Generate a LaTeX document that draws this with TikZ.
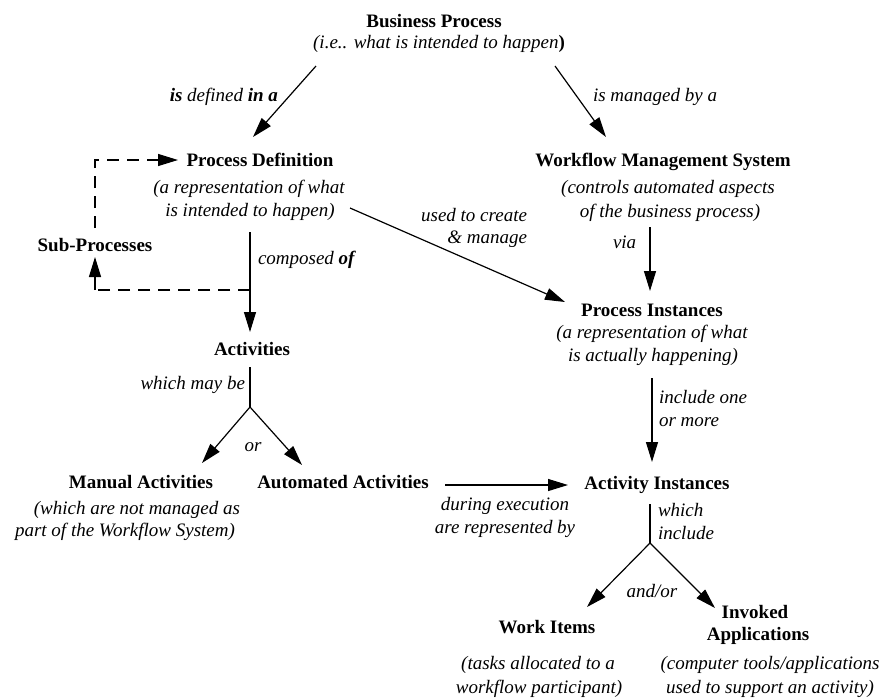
\documentclass[tikz,border=0pt]{standalone}
\usepackage{fontspec}
\setmainfont{Liberation Serif}
\usetikzlibrary{arrows.meta}
\begin{document}
\begin{tikzpicture}[x=1pt,y=-1pt,
  every node/.style={inner sep=0pt,outer sep=0pt,anchor=base,font=\fontsize{19}{23}\selectfont},
  ttl/.style={font=\fontsize{19}{23}\selectfont\bfseries},
  sub/.style={font=\fontsize{19}{23}\selectfont\itshape},
  lbl/.style={font=\fontsize{19}{23}\selectfont\itshape},
  conn/.style={line width=1.2pt},
  arr/.style={line width=1.2pt,-{Triangle[length=20pt,width=12pt]}},
  dsh/.style={line width=1.2pt,dash pattern=on 12pt off 8pt}]
\path[use as bounding box] (0,0) rectangle (883,697);
% nodes
\node[ttl] (bp) at (434,27) {Business Process};
\node[sub] (bpsub) at (439,48) {(i.e.. what is intended to happen\textup{\bfseries )}};
\node[ttl] (pd) at (260,166) {Process Definition};
\node[sub] (pdsub1) at (249,193) {(a representation of what};
\node[sub] (pdsub2) at (250,216) {is intended to happen)};
\node[ttl] (wms) at (663,166) {Workflow Management System};
\node[sub] (wmssub1) at (668,193) {(controls automated aspects};
\node[sub] (wmssub2) at (670,217) {of the business process)};
\node[ttl] (sp) at (95,251) {Sub-Processes};
\node[ttl] (pi) at (652,316) {Process Instances};
\node[sub] (pisub1) at (652,338) {(a representation of what};
\node[sub] (pisub2) at (653,361) {is actually happening)};
\node[ttl] (act) at (252,355) {Activities};
\node[ttl] (man) at (141,488) {Manual Activities};
\node[sub] (mansub1) at (137,514) {(which are not managed as};
\node[sub] (mansub2) at (125,536) {part of the Workflow System)};
\node[ttl] (auto) at (343,488) {Automated Activities};
\node[ttl] (ai) at (657,489) {Activity Instances};
\node[ttl] (wi) at (547,633) {Work Items};
\node[ttl] (inv1) at (755,618) {Invoked};
\node[ttl] (inv2) at (758,640) {Applications};
\node[sub] (wisub1) at (538,669) {(tasks allocated to a};
\node[sub] (wisub2) at (539,693) {workflow participant)};
\node[sub] (invsub1) at (770,669) {(computer tools/applications};
\node[sub] (invsub2) at (770,693) {used to support an activity)};
% labels
\node[lbl,anchor=base east] (l1) at (278,101) {\bfseries is \mdseries defined \bfseries in a};
\node[lbl,anchor=base west] (l2) at (593,101) {is managed by a};
\node[lbl,anchor=base east] (l3a) at (527,221) {used to create};
\node[lbl,anchor=base east] (l3b) at (527,243) {\& manage};
\node[lbl,anchor=base west] (l4) at (258,264) {composed \bfseries of};
\node[lbl,anchor=base west] (l5) at (613,248) {via};
\node[lbl,anchor=base east] (l6) at (245,389) {which may be};
\node[lbl] (l7) at (253,451) {or};
\node[lbl,anchor=base west] (l8a) at (659,403) {include one};
\node[lbl,anchor=base west] (l8b) at (659,426) {or more};
\node[lbl] (l9a) at (505,510) {during execution};
\node[lbl] (l9b) at (505,533) {are represented by};
\node[lbl,anchor=base west] (l10a) at (658,516) {which};
\node[lbl,anchor=base west] (l10b) at (658,539) {include};
\node[lbl] (l11) at (652,597) {and/or};
% connector end points
\coordinate (bpL) at (316,66);
\coordinate (pdT) at (253,137);
\coordinate (bpR) at (555,66);
\coordinate (wmsT) at (606,137);
\coordinate (pdB) at (250,232);
\coordinate (actT) at (250,332);
\coordinate (cj) at (250,290);
\coordinate (spB) at (95,290);
\coordinate (spBt) at (95,257);
\coordinate (spT) at (95,228);
\coordinate (spC) at (95,160);
\coordinate (pdL) at (178,160);
\coordinate (pdR) at (350,208);
\coordinate (piL) at (565,302);
\coordinate (wmsB) at (650,227);
\coordinate (piT) at (650,291);
\coordinate (piB) at (652,378);
\coordinate (aiT) at (652,462);
\coordinate (autoR) at (445,485);
\coordinate (aiL) at (568,485);
\coordinate (actB) at (250,367);
\coordinate (actJ) at (250,407);
\coordinate (manT) at (202,463);
\coordinate (autoT) at (302,465);
\coordinate (aiB) at (650,504);
\coordinate (aiJ) at (650,543);
\coordinate (wiT) at (587,607);
\coordinate (invT) at (715,608);
% connectors
\draw[arr] (bpL) -- (pdT);
\draw[arr] (bpR) -- (wmsT);
\draw[arr] (pdB) -- (actT);
\draw[dsh] (cj) -- (spB);
\draw[arr] (spB) -- (spBt);
\draw[dsh] (spT) -- (spC) -- ([xshift=-14pt]pdL);
\draw[arr] ([xshift=-8pt]pdL) -- (pdL);
\draw[arr] (pdR) -- (piL);
\draw[arr] (wmsB) -- (piT);
\draw[arr] (piB) -- (aiT);
\draw[arr] (autoR) -- (aiL);
\draw[conn] (actB) -- (actJ);
\draw[arr] (actJ) -- (manT);
\draw[arr] (actJ) -- (autoT);
\draw[conn] (aiB) -- (aiJ);
\draw[arr] (aiJ) -- (wiT);
\draw[arr] (aiJ) -- (invT);
\end{tikzpicture}
\end{document}
